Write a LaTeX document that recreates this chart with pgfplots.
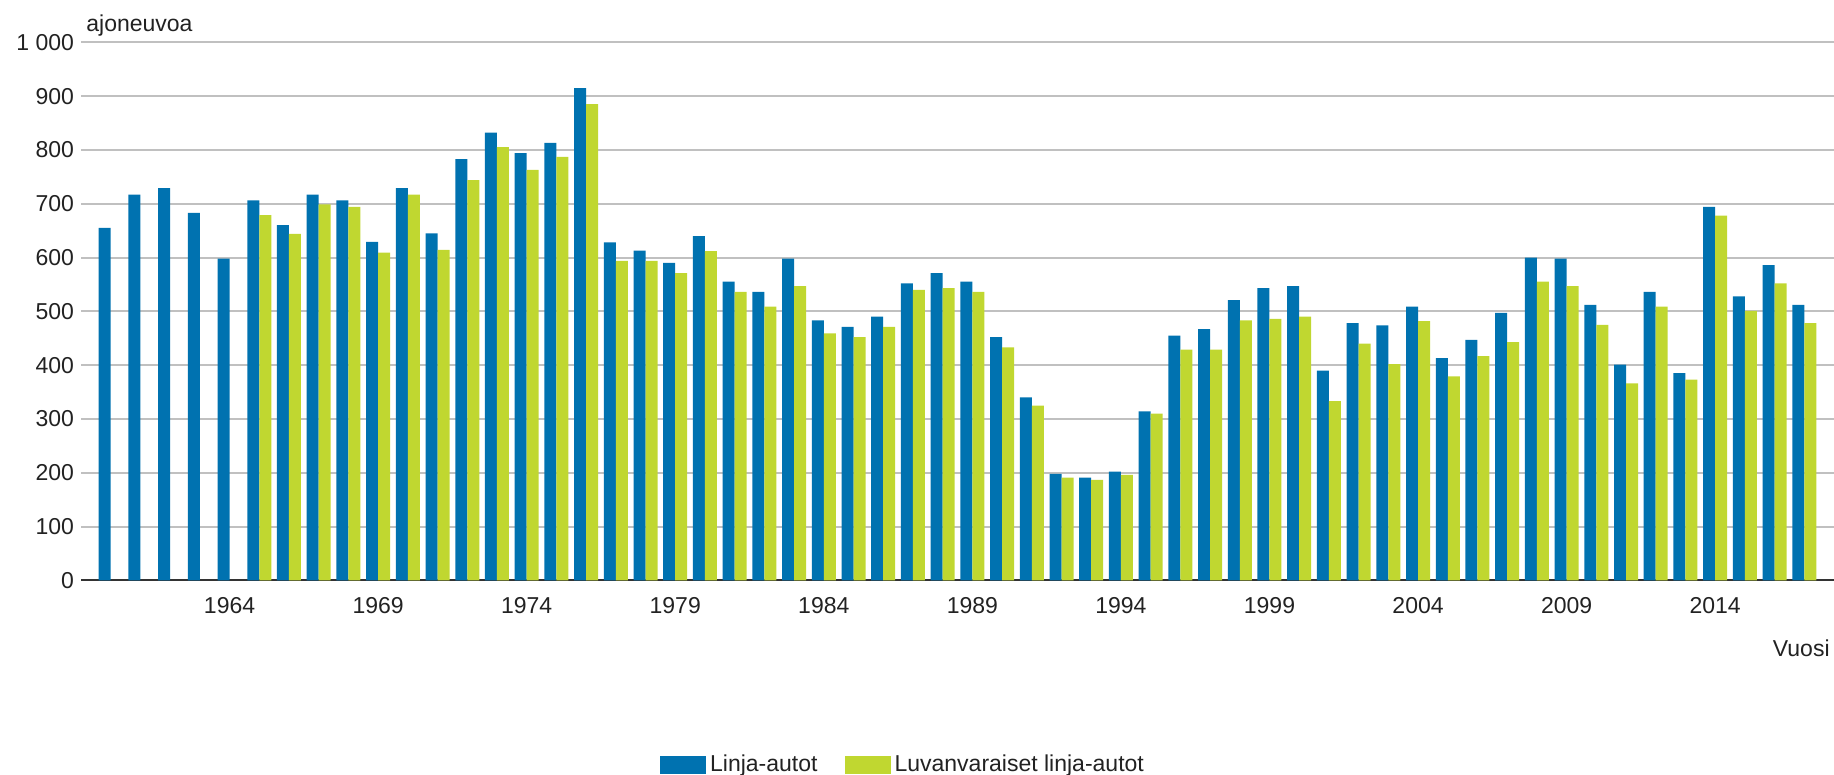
\documentclass[border=0pt]{standalone}
\usepackage{fontspec}
\setmainfont{Liberation Sans}
\usepackage{pgfplots}
\pgfplotsset{compat=1.18}

\definecolor{busblue}{RGB}{0,114,176}
\definecolor{busgreen}{RGB}{192,215,48}
\definecolor{gridgray}{RGB}{192,192,192}
\definecolor{txt}{RGB}{34,34,34}

\begin{document}
\begin{tikzpicture}[font=\fontsize{11.5}{13.8}\selectfont, text=txt]
\path[use as bounding box] (0,0) rectangle (917pt,387.5pt);
\begin{axis}[
    at={(40.5pt,97.3pt)}, anchor=south west,
    scale only axis,
    width=876.5pt, height=269.05pt,
    xmin=1959, xmax=2018,
    ymin=0, ymax=1000,
    ybar=0pt, bar width=6pt,
    axis x line*=bottom, axis y line*=left,
    y axis line style={draw=none},
    x axis line style={line width=1pt, draw=black!80},
    xtick={1964,1969,...,2014},
    ytick={0,100,...,1000},
    major tick length=0pt,
    ymajorgrids,
    grid style={line width=1pt, gridgray},
    /pgf/number format/assume math mode=true,
    xticklabel style={/pgf/number format/1000 sep=, yshift=-5pt},
    yticklabel style={/pgf/number format/1000 sep={\ }},
    legend columns=2,
    legend style={at={(0.4695,-0.343)}, anchor=center, draw=none, fill=none,
        /tikz/every even column/.append style={column sep=11.5pt}},
    legend image code/.code={\fill[#1] (0pt,-4.5pt) rectangle (23pt,4.5pt);},
    clip=false,
]
% Linja-autot
\addplot[fill=busblue, draw=none] coordinates {
    (1960,655) (1961,717) (1962,729) (1963,683) (1964,598)
    (1965,706) (1966,660) (1967,717) (1968,706) (1969,629)
    (1970,729) (1971,645) (1972,783) (1973,832) (1974,794)
    (1975,813) (1976,915) (1977,628) (1978,613) (1979,590)
    (1980,640) (1981,555) (1982,536) (1983,598) (1984,483)
    (1985,471) (1986,490) (1987,552) (1988,571) (1989,555)
    (1990,452) (1991,340) (1992,198) (1993,191) (1994,202)
    (1995,314) (1996,455) (1997,467) (1998,521) (1999,543)
    (2000,547) (2001,390) (2002,478) (2003,474) (2004,509)
    (2005,413) (2006,447) (2007,497) (2008,600) (2009,598)
    (2010,512) (2011,401) (2012,536) (2013,385) (2014,694)
    (2015,528) (2016,586) (2017,512)
};
% Luvanvaraiset linja-autot
\addplot[fill=busgreen, draw=none] coordinates {
    (1965,679) (1966,644) (1967,699) (1968,694) (1969,609)
    (1970,717) (1971,614) (1972,744) (1973,805) (1974,763)
    (1975,787) (1976,885) (1977,594) (1978,594) (1979,571)
    (1980,612) (1981,536) (1982,509) (1983,547) (1984,459)
    (1985,452) (1986,471) (1987,540) (1988,543) (1989,536)
    (1990,433) (1991,325) (1992,191) (1993,187) (1994,196)
    (1995,310) (1996,429) (1997,429) (1998,483) (1999,486)
    (2000,490) (2001,333) (2002,440) (2003,402) (2004,482)
    (2005,379) (2006,417) (2007,443) (2008,555) (2009,547)
    (2010,475) (2011,366) (2012,509) (2013,373) (2014,678)
    (2015,501) (2016,552) (2017,478)
};
\legend{Linja-autot, Luvanvaraiset linja-autot}
\node[anchor=base west, inner sep=0pt, xshift=2.5pt, yshift=5.3pt]
    at (rel axis cs:0,1) {ajoneuvoa};
\node[anchor=base east, inner sep=0pt, xshift=-2pt, yshift=-38.3pt]
    at (rel axis cs:1,0) {Vuosi};
\end{axis}
\end{tikzpicture}
\end{document}
